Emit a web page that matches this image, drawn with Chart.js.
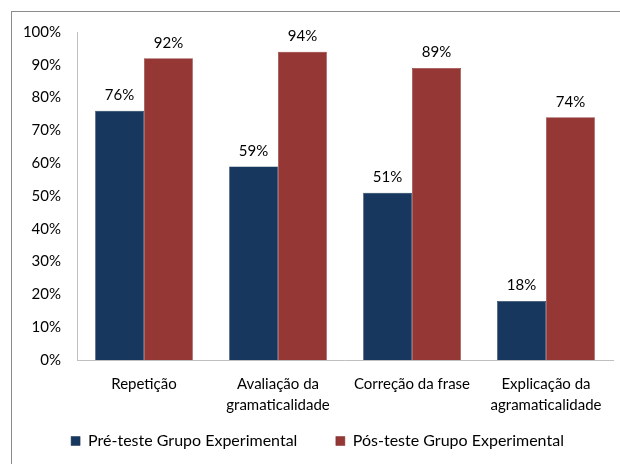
<!DOCTYPE html>
<html lang="pt-br">
<head>
<meta charset="UTF-8">
<script src="https://cdn.jsdelivr.net/npm/chart.js"></script>
<style>
  body { margin: 0; background: #fff; }
  .moldura { position: absolute; left: 11px; top: 11px; width: 700px; height: 600px; border: 1px solid #8c8c8c; }
  #grafico { position: absolute; left: 0; top: 0; }
</style>
</head>
<body>
<div class="moldura"></div>
<canvas id="grafico" width="620" height="464"></canvas>

<script>
// dados
const categorias = [
    'Repetição',
    ['Avaliação da', 'gramaticalidade'],
    'Correção da frase',
    ['Explicação da', 'agramaticalidade']
]
const preTeste = [76, 59, 51, 18]
const posTeste = [92, 94, 89, 74]
const nomesSeries = ['Pré-teste Grupo Experimental', 'Pós-teste Grupo Experimental']

const fonte = 'Lato, "Noto Sans", sans-serif'

// espaco extra (px) depois do texto de cada item da legenda
const folgaLegenda = [19, 0]

function espacos(px) {
    if (!px) return ''
    const c = document.createElement('canvas').getContext('2d')
    c.font = '16px ' + fonte
    const w = c.measureText('\u00a0').width || 4
    return '\u00a0'.repeat(Math.round(px / w))
}

// escreve o valor em cima de cada barra
const rotulosBarras = {
    id: 'rotulosBarras',
    afterDatasetsDraw(chart) {
        const ctx = chart.ctx
        ctx.save()
        ctx.font = '15px ' + fonte
        ctx.fillStyle = '#000'
        ctx.textAlign = 'center'
        ctx.textBaseline = 'bottom'
        chart.data.datasets.forEach((ds, i) => {
            chart.getDatasetMeta(i).data.forEach((barra, j) => {
                ctx.fillText(ds.data[j] + '%', barra.x, barra.y - 8)
            })
        })
        ctx.restore()
    }
}

const config = {
    type: 'bar',
    data: {
        labels: categorias,
        datasets: [{
            label: nomesSeries[0],
            data: preTeste,
            backgroundColor: '#17375E',
            borderColor: '#16324f',
            borderWidth: 0.5
        }, {
            label: nomesSeries[1],
            data: posTeste,
            backgroundColor: '#953735',
            borderColor: '#7a2d2b',
            borderWidth: 0.5
        }]
    },
    options: {
        responsive: false,
        animation: false,
        categoryPercentage: 0.73,
        barPercentage: 1,
        layout: {
            padding: { left: 22, right: 7, top: 32, bottom: 5 }
        },
        scales: {
            x: {
                grid: { display: false, drawTicks: false },
                border: { color: '#bfbfbf' },
                ticks: {
                    color: '#000',
                    padding: 13,
                    maxRotation: 0,
                    font: { family: fonte, size: 15, lineHeight: 1.45 }
                },
                afterFit(scale) { scale.height = 55 }
            },
            y: {
                min: 0,
                max: 100,
                grid: { display: false, drawTicks: false },
                border: { color: '#bfbfbf' },
                ticks: {
                    stepSize: 10,
                    color: '#000',
                    padding: 16,
                    font: { family: fonte, size: 15 },
                    callback: v => v + '%'
                },
                afterFit(scale) { scale.width = 55 }
            }
        },
        plugins: {
            legend: {
                position: 'bottom',
                labels: {
                    color: '#000',
                    boxWidth: 9,
                    boxHeight: 9,
                    padding: 18,
                    font: { family: fonte, size: 16 },
                    generateLabels(chart) {
                        const itens = Chart.defaults.plugins.legend.labels.generateLabels(chart)
                        itens.forEach((it, i) => { it.text = it.text + espacos(folgaLegenda[i]) })
                        return itens
                    }
                }
            },
            tooltip: { enabled: false }
        }
    },
    plugins: [rotulosBarras]
}

new Chart(document.getElementById('grafico'), config)
</script>
</body>
</html>
